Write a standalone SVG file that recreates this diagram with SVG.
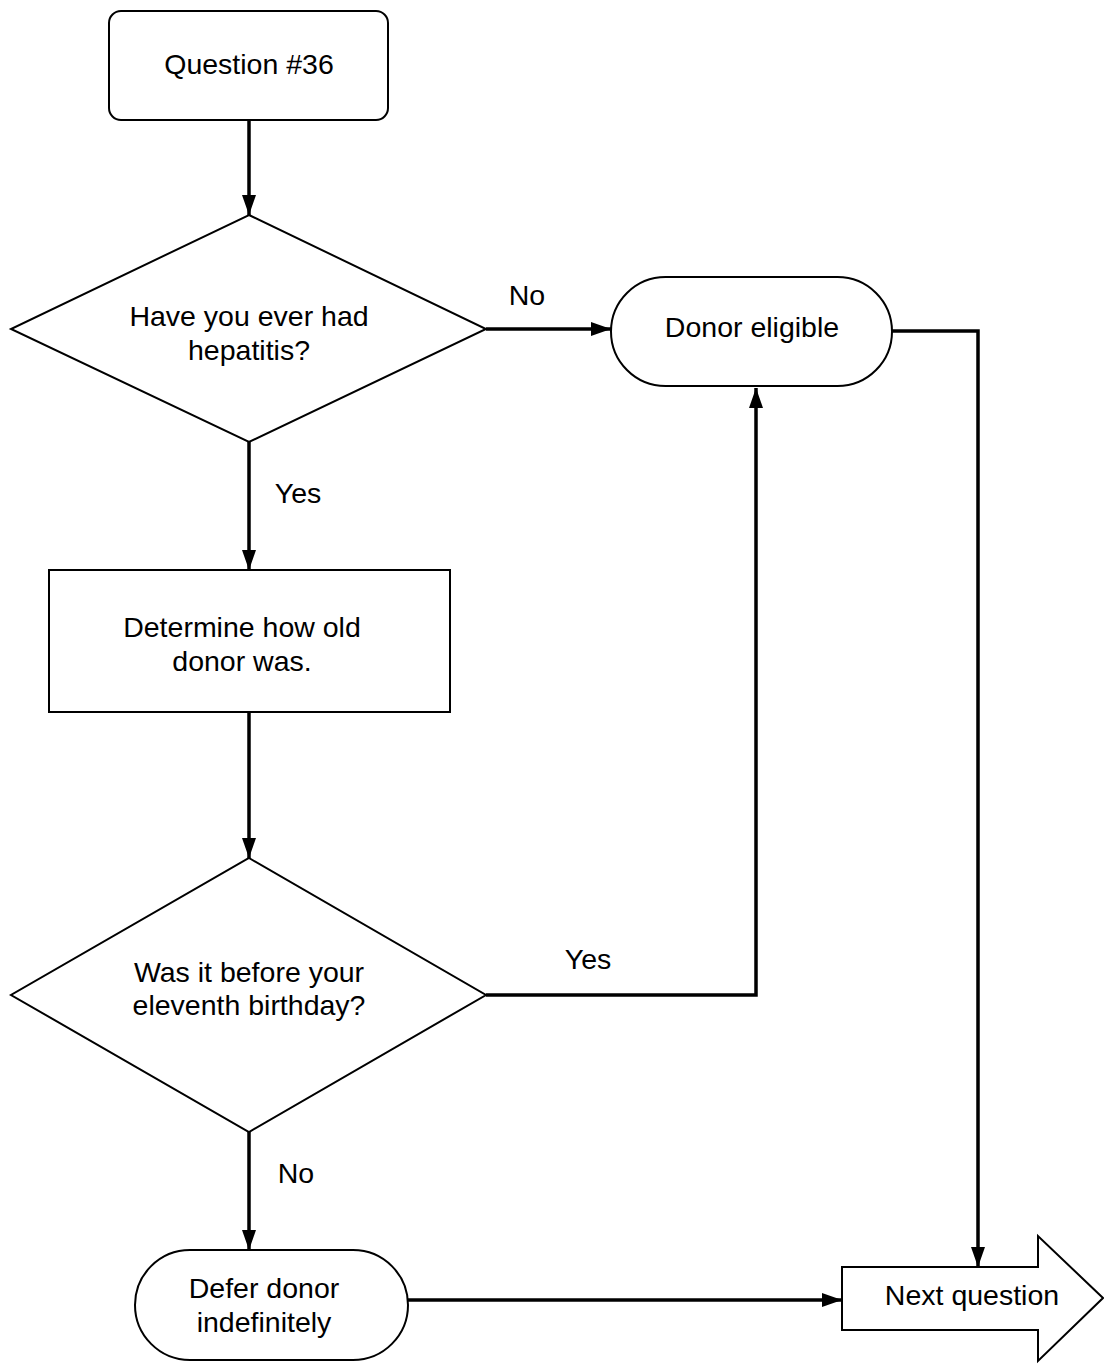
<svg xmlns="http://www.w3.org/2000/svg" width="1104" height="1368" viewBox="0 0 1104 1368">
<defs>
<marker id="ah" markerUnits="userSpaceOnUse" markerWidth="20" markerHeight="14" refX="20" refY="7" orient="auto">
<path d="M0,0 L20,7 L0,14 z" fill="#000"/>
</marker>
<style>
.shape{fill:#fff;stroke:#000;stroke-width:2}
.conn{fill:none;stroke:#000;stroke-width:3.5}
text{font-family:"Liberation Sans",Arial,sans-serif;font-size:28.5px;fill:#000;text-anchor:middle}
</style>
</defs>
<rect width="1104" height="1368" fill="#fff"/>
<g id="connectors">
<path class="conn" d="M249,120 V215" marker-end="url(#ah)"/>
<path class="conn" d="M486,329 H611" marker-end="url(#ah)"/>
<path class="conn" d="M892,331 H978 V1267" marker-end="url(#ah)"/>
<path class="conn" d="M249,442 V570" marker-end="url(#ah)"/>
<path class="conn" d="M249,712 V858" marker-end="url(#ah)"/>
<path class="conn" d="M486,995 H756 V388" marker-end="url(#ah)"/>
<path class="conn" d="M249,1132 V1250" marker-end="url(#ah)"/>
<path class="conn" d="M408,1300 H842" marker-end="url(#ah)"/>
<text x="527" y="305">No</text>
<text x="298" y="503">Yes</text>
<text x="588" y="969">Yes</text>
<text x="296" y="1183">No</text>
</g>
<g id="question36">
<rect class="shape" x="109" y="11" width="279" height="109" rx="12"/>
<text x="249" y="74">Question #36</text>
</g>
<g id="hepatitis">
<polygon class="shape" points="249,215 486,329 249,442 11,329"/>
<text x="249" y="326">Have you ever had</text>
<text x="249" y="360">hepatitis?</text>
</g>
<g id="donor-eligible">
<rect class="shape" x="611" y="277" width="281" height="109" rx="54.5"/>
<text x="752" y="337">Donor eligible</text>
</g>
<g id="determine">
<rect class="shape" x="49" y="570" width="401" height="142"/>
<text x="242" y="637">Determine how old</text>
<text x="242" y="671">donor was.</text>
</g>
<g id="eleventh">
<polygon class="shape" points="249,858 486,995 249,1132 11,995"/>
<text x="249" y="982">Was it before your</text>
<text x="249" y="1015">eleventh birthday?</text>
</g>
<g id="defer">
<rect class="shape" x="135" y="1250" width="273" height="110" rx="55"/>
<text x="264" y="1298">Defer donor</text>
<text x="264" y="1332">indefinitely</text>
</g>
<g id="next-question">
<polygon class="shape" points="842,1267 1038,1267 1038,1236 1103,1298 1038,1361 1038,1330 842,1330"/>
<text x="972" y="1305">Next question</text>
</g>
</svg>
